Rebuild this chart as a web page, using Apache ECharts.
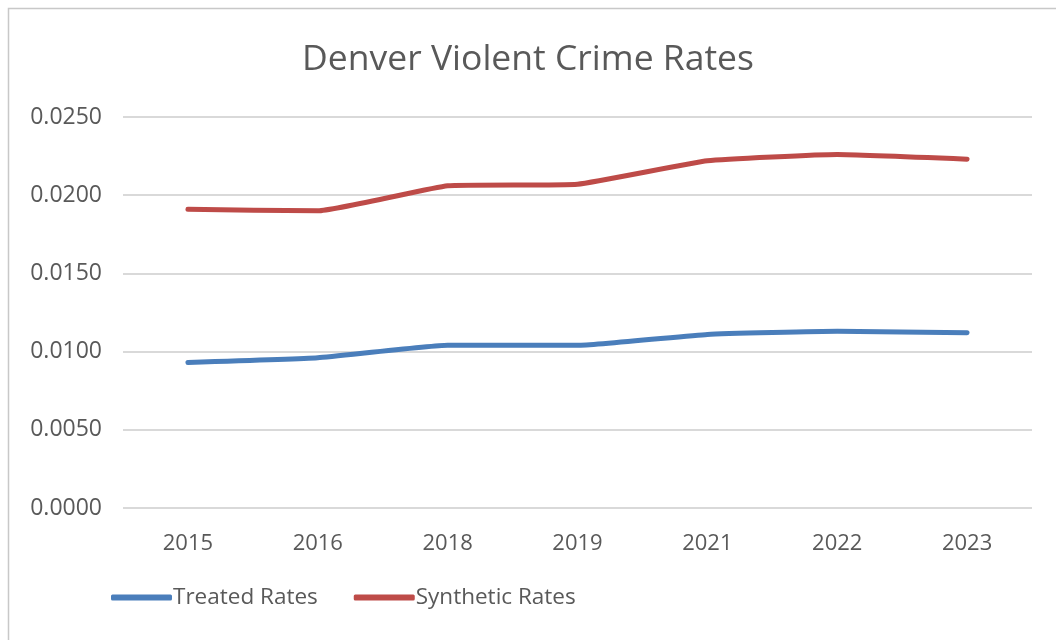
<!DOCTYPE html>
<html>
<head>
<meta charset="utf-8">
<script src="https://cdn.jsdelivr.net/npm/echarts@6/dist/echarts.min.js"></script>
<style>
  html, body { margin: 0; padding: 0; background: #ffffff; }
  #chart { width: 1056px; height: 640px; }
</style>
</head>
<body>
<div id="chart"></div>
<script>
// Denver violent crime rates: treated unit vs. synthetic control
const years = ['2015', '2016', '2018', '2019', '2021', '2022', '2023'];
const treatedRates = [0.0093, 0.0096, 0.0104, 0.0104, 0.0111, 0.0113, 0.0112];
const syntheticRates = [0.0191, 0.0190, 0.0206, 0.0207, 0.0222, 0.0226, 0.0223];

const textColor = '#595959';
const fontFamily = '"Open Sans", "DejaVu Sans", sans-serif';

const chart = echarts.init(document.getElementById('chart'));
chart.setOption({
  backgroundColor: '#ffffff',
  animation: false,
  graphic: [{
    type: 'rect',
    shape: { x: 8.5, y: 8.5, width: 1060, height: 660 },
    style: { fill: 'none', stroke: '#c8c8c8', lineWidth: 1.5 },
    silent: true
  }],
  title: {
    text: 'Denver Violent Crime Rates',
    left: 'center',
    top: 37,
    textStyle: { color: textColor, fontSize: 35.5, fontWeight: 'normal', fontFamily: fontFamily }
  },
  legend: {
    left: 106,
    top: 581,
    itemWidth: 61,
    itemHeight: 6,
    itemGap: 36,
    icon: 'roundRect',
    textStyle: { color: textColor, fontSize: 22.5, fontFamily: fontFamily, padding: [0, 0, 0, -4] },
    data: ['Treated Rates', 'Synthetic Rates']
  },
  grid: { left: 123, right: 24, top: 117, bottom: 132, containLabel: false },
  xAxis: {
    type: 'category',
    data: years,
    boundaryGap: true,
    axisLine: { show: false },
    axisTick: { show: false },
    axisLabel: { color: textColor, fontSize: 22, fontFamily: fontFamily, margin: 25 }
  },
  yAxis: {
    type: 'value',
    min: 0,
    max: 0.025,
    interval: 0.005,
    axisLine: { show: false },
    axisTick: { show: false },
    axisLabel: {
      color: textColor, fontSize: 23, fontFamily: fontFamily, margin: 21,
      formatter: v => v.toFixed(4)
    },
    splitLine: { lineStyle: { color: '#d9d9d9', width: 2 } }
  },
  series: [
    {
      name: 'Treated Rates',
      type: 'line',
      data: treatedRates,
      symbol: 'none',
      smooth: 0.12,
      lineStyle: { color: '#4a7ebb', width: 5, cap: 'round', join: 'round' },
      itemStyle: { color: '#4a7ebb' }
    },
    {
      name: 'Synthetic Rates',
      type: 'line',
      data: syntheticRates,
      symbol: 'none',
      smooth: 0.12,
      lineStyle: { color: '#be4b48', width: 5, cap: 'round', join: 'round' },
      itemStyle: { color: '#be4b48' }
    }
  ]
});
</script>
</body>
</html>
